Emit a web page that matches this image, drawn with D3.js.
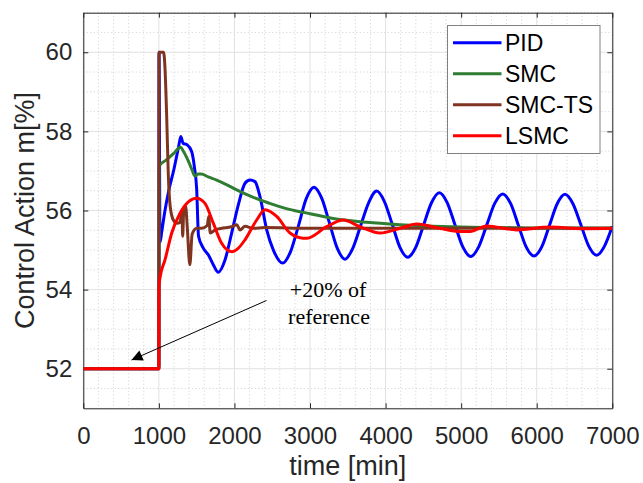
<!DOCTYPE html>
<html>
<head>
<meta charset="utf-8">
<script src="https://cdn.jsdelivr.net/npm/d3@7"></script>
<style>
  body { margin: 0; background: #fff; }
  svg { display: block; font-family: "Liberation Sans", Arial, Helvetica, sans-serif; }
</style>
</head>
<body>
<div id="chart"></div>
<script>
// values: [time (min), control action (%)]
const pidData = [
  [0, 52], [1000, 52], [1002, 60], [1015, 55.2], [1037, 55.45], [1081, 56.0], [1125, 56.45],
  [1200, 57.05], [1260, 57.6], [1290, 57.87], [1320, 57.7], [1376, 57.66], [1434, 57.49],
  [1470, 57.1], [1500, 56.55], [1525, 55.35], [1588, 55.05], [1654, 54.88], [1720, 54.63],
  [1786, 54.44], [1875, 54.75], [1963, 55.43], [2052, 56.15], [2140, 56.69], [2206, 56.77],
  [2272, 56.73], [2338, 56.35], [2427, 55.51], [2515, 55.0], [2638, 54.67], [2740, 54.95],
  [2845, 55.6], [2950, 56.3], [3053, 56.59], [3157, 56.3], [3258, 55.68], [3360, 55.05],
  [3463, 54.77], [3567, 55.05], [3672, 55.63], [3777, 56.2], [3882, 56.49], [3986, 56.22],
  [4088, 55.65], [4190, 55.07], [4293, 54.82], [4397, 55.06], [4502, 55.63], [4606, 56.19],
  [4711, 56.45], [4815, 56.2], [4918, 55.64], [5022, 55.08], [5126, 54.84], [5232, 55.08],
  [5338, 55.63], [5444, 56.18], [5550, 56.42], [5654, 56.18], [5757, 55.63], [5860, 55.08],
  [5964, 54.85], [6066, 55.08], [6169, 55.63], [6271, 56.17], [6374, 56.41], [6479, 56.17],
  [6584, 55.64], [6688, 55.1], [6793, 54.87], [6897, 55.1], [7000, 55.6]
];
const smcData = [
  [0, 52], [1000, 52], [1003, 57.12], [1100, 57.28], [1200, 57.45], [1285, 57.6], [1330, 57.48],
  [1390, 57.25], [1440, 57.02], [1478, 56.87], [1520, 56.92], [1560, 56.92], [1654, 56.85],
  [1765, 56.77], [1900, 56.65], [2030, 56.52], [2250, 56.33], [2470, 56.18], [2700, 56.04],
  [2867, 55.97], [3000, 55.92], [3308, 55.8], [3750, 55.7], [4191, 55.64], [4630, 55.6],
  [4985, 55.58], [5500, 55.57], [6000, 55.56], [7000, 55.56]
];
const smcTsData = [
  [0, 52], [1000, 52], [1002, 60], [1062, 60], [1081, 59.6], [1103, 58.4], [1125, 56.9],
  [1150, 56.1], [1191, 55.76], [1240, 55.68], [1280, 55.7], [1305, 56.0], [1315, 55.35],
  [1330, 56.05], [1355, 56.1], [1375, 55.6], [1410, 54.63], [1440, 55.4], [1500, 55.55],
  [1566, 55.55], [1640, 55.62], [1660, 55.85], [1680, 55.43], [1743, 55.51], [1831, 55.55],
  [1963, 55.59], [2030, 55.64], [2074, 55.51], [2140, 55.6], [2250, 55.55], [2400, 55.57],
  [3000, 55.55], [7000, 55.55]
];
const lsmcData = [
  [0, 52], [1000, 52], [1002, 54.1], [1015, 54.3], [1081, 54.75], [1170, 55.43], [1280, 55.93],
  [1390, 56.22], [1500, 56.31], [1610, 56.18], [1720, 55.68], [1831, 55.17], [1963, 54.96],
  [2052, 55.05], [2140, 55.26], [2294, 55.76], [2404, 56.02], [2559, 55.85], [2735, 55.43],
  [2911, 55.3], [2960, 55.3], [3220, 55.59], [3441, 55.76], [3661, 55.59], [3926, 55.43],
  [4191, 55.55], [4412, 55.66], [4718, 55.55], [4985, 55.47], [5117, 55.47], [5338, 55.61],
  [5735, 55.51], [6176, 55.58], [6617, 55.54], [7000, 55.55]
];

const seriesNames = ['PID', 'SMC', 'SMC-TS', 'LSMC'];
const xTicks = [0, 1000, 2000, 3000, 4000, 5000, 6000, 7000];
const yTicks = [52, 54, 56, 58, 60];

const series = [
  { name: seriesNames[0], data: pidData, color: '#0000ff' },
  { name: seriesNames[1], data: smcData, color: '#2f7d32' },
  { name: seriesNames[2], data: smcTsData, color: '#7f3420' },
  { name: seriesNames[3], data: lsmcData, color: '#ff0000' }
];

const width = 643, height = 483;
const margin = { left: 83.3, top: 12.7, right: 643 - 612.3, bottom: 483 - 408.3 };
const iw = width - margin.left - margin.right;
const ih = height - margin.top - margin.bottom;

const x = d3.scaleLinear().domain([0, 7000]).range([0, iw]);
const y = d3.scaleLinear().domain([51, 61]).range([ih, 0]);

const svg = d3.select('#chart').append('svg')
  .attr('width', width).attr('height', height);
const g = svg.append('g').attr('transform', `translate(${margin.left},${margin.top})`);

// minor grid (dotted)
const xMinor = d3.range(0, 7001, 200).filter(v => v % 1000 !== 0);
const yMinor = d3.range(51, 61.01, 0.5).filter(v => v % 2 !== 0);
g.append('g').selectAll('line').data(xMinor).enter().append('line')
  .attr('x1', d => x(d)).attr('x2', d => x(d)).attr('y1', 0).attr('y2', ih)
  .attr('stroke', '#c4c4c4').attr('stroke-width', 0.8).attr('stroke-dasharray', '1,2.5');
g.append('g').selectAll('line').data(yMinor).enter().append('line')
  .attr('y1', d => y(d)).attr('y2', d => y(d)).attr('x1', 0).attr('x2', iw)
  .attr('stroke', '#c4c4c4').attr('stroke-width', 0.8).attr('stroke-dasharray', '1,2.5');

// major grid
g.append('g').selectAll('line').data(xTicks).enter().append('line')
  .attr('x1', d => x(d)).attr('x2', d => x(d)).attr('y1', 0).attr('y2', ih)
  .attr('stroke', '#e1e1e1').attr('stroke-width', 1);
g.append('g').selectAll('line').data(yTicks).enter().append('line')
  .attr('y1', d => y(d)).attr('y2', d => y(d)).attr('x1', 0).attr('x2', iw)
  .attr('stroke', '#e1e1e1').attr('stroke-width', 1);

// axes, ticks pointing inward on all four sides
const axisColor = '#262626';
function styleAxis(sel) {
  sel.select('.domain').attr('stroke', axisColor).attr('stroke-width', 1);
  sel.selectAll('.tick line').attr('stroke', axisColor);
  sel.selectAll('text').attr('fill', axisColor).style('font-size', '24px')
    .style('font-family', '"Liberation Sans", Arial, Helvetica, sans-serif');
}
g.append('g').attr('transform', `translate(0,${ih})`)
  .call(d3.axisBottom(x).tickValues(xTicks).tickFormat(d3.format('d')).tickSizeInner(-5).tickSizeOuter(0).tickPadding(19))
  .call(styleAxis);
g.append('g')
  .call(d3.axisTop(x).tickValues(xTicks).tickFormat('').tickSizeInner(-5).tickSizeOuter(0))
  .call(styleAxis);
g.append('g')
  .call(d3.axisLeft(y).tickValues(yTicks).tickFormat(d3.format('d')).tickSizeInner(-5).tickSizeOuter(0).tickPadding(11))
  .call(styleAxis);
g.append('g').attr('transform', `translate(${iw},0)`)
  .call(d3.axisRight(y).tickValues(yTicks).tickFormat('').tickSizeInner(-5).tickSizeOuter(0))
  .call(styleAxis);

// curves
const line = d3.line()
  .x(d => x(d[0]))
  .y(d => y(d[1]))
  .curve(d3.curveMonotoneX);

const plot = g.append('g');
plot.append('clipPath').attr('id', 'clip')
  .append('rect').attr('x', 0).attr('y', 0).attr('width', iw).attr('height', ih);
plot.selectAll('path.series').data(series).enter().append('path')
  .attr('class', 'series')
  .attr('clip-path', 'url(#clip)')
  .attr('d', d => line(d.data))
  .attr('fill', 'none')
  .attr('stroke', d => d.color)
  .attr('stroke-width', 3)
  .attr('stroke-linejoin', 'round');

// annotation with arrow
svg.append('defs').append('marker')
  .attr('id', 'arrowhead')
  .attr('viewBox', '0 0 10 10')
  .attr('refX', 10).attr('refY', 5)
  .attr('markerUnits', 'userSpaceOnUse')
  .attr('markerWidth', 14).attr('markerHeight', 11)
  .attr('orient', 'auto')
  .append('path').attr('d', 'M0,0 L10,5 L0,10 Z').attr('fill', '#000');

svg.append('line')
  .attr('x1', 266.5).attr('y1', 300.5)
  .attr('x2', 131.5).attr('y2', 360)
  .attr('stroke', '#000').attr('stroke-width', 1)
  .attr('marker-end', 'url(#arrowhead)');

const note = svg.append('text')
  .attr('font-family', '"Liberation Serif", "Times New Roman", serif')
  .attr('font-size', 22).attr('fill', '#000').attr('text-anchor', 'middle');
note.append('tspan').attr('x', 328).attr('y', 297).text('+20% of');
note.append('tspan').attr('x', 329).attr('y', 323.5).text('reference');

// axis titles
svg.append('text')
  .attr('x', margin.left + iw / 2).attr('y', 475)
  .attr('text-anchor', 'middle').attr('fill', axisColor)
  .style('font-size', '27px').text('time [min]');
svg.append('text')
  .attr('transform', `translate(34,${margin.top + ih / 2}) rotate(-90)`)
  .attr('text-anchor', 'middle').attr('fill', axisColor)
  .style('font-size', '27px').text('Control Action m[%]');

// legend
const legend = svg.append('g').attr('transform', 'translate(447.5,25.5)');
legend.append('rect')
  .attr('width', 152.5).attr('height', 128)
  .attr('fill', '#fff').attr('stroke', '#808080').attr('stroke-width', 1);
const entry = legend.selectAll('g.entry').data(series).enter().append('g')
  .attr('class', 'entry')
  .attr('transform', (d, i) => `translate(0,${17.2 + i * 31})`);
entry.append('line')
  .attr('x1', 5.5).attr('x2', 54).attr('y1', 0).attr('y2', 0)
  .attr('stroke', d => d.color).attr('stroke-width', 3);
entry.append('text')
  .attr('x', 57.5).attr('dy', '0.36em')
  .attr('fill', '#000').style('font-size', '23px')
  .text(d => d.name);
</script>
</body>
</html>
